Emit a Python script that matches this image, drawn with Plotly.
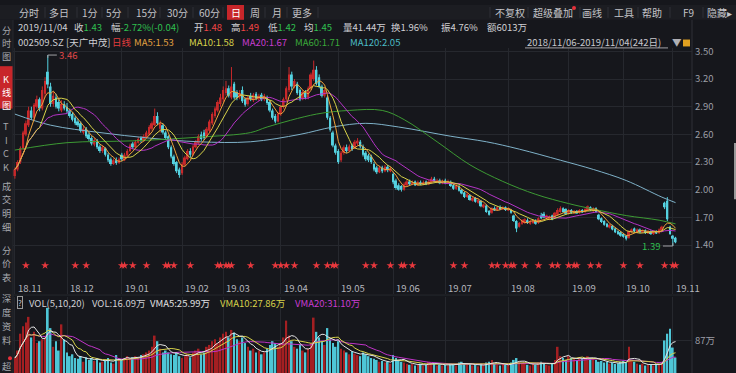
import plotly.graph_objects as go
import pandas as pd

W, H = 736, 373
FONT = "Noto Sans CJK SC, Noto Sans, sans-serif"
BG = "#16171c"
GRID = "#26282e"
RED = "#c8292b"
CYAN = "#55d2e0"
VRED = "#a41f22"
VCYAN = "#4ec6d6"
GREEN_T = "#2fbf4f"
RED_T = "#ee4444"

def fx(px):
    return px / W

def fy(py):
    return 1 - py / H

def p_at(py):  # price value located at pixel row py (3.50 at y=47, 93.5 px per 1.00)
    return 3.5 - (py - 47) / 93.5

# ---------------- data ----------------
month_ticks = [0, 19, 39, 61, 76, 97, 118, 138, 157, 180, 202, 222, 240]
month_labels = ["18.11", "18.12", "19.01", "19.02", "19.03", "19.04", "19.05",
                "19.06", "19.07", "19.08", "19.09", "19.10", "19.11"]
price_ticks = [1.40, 1.70, 2.00, 2.30, 2.60, 2.90, 3.20, 3.50]

open_ = [
    2.15, 2.22, 2.30, 2.45, 2.60, 2.70, 2.86, 2.78, 2.90, 2.98, 2.88, 3.04, 3.28, 3.12, 2.93, 3.00, 2.95, 2.86, 2.93,
    2.90, 2.86, 2.82, 2.78, 2.74, 2.72, 2.62, 2.66, 2.60, 2.56, 2.49, 2.53, 2.47, 2.42, 2.45, 2.38, 2.33, 2.28, 2.32, 2.29,
    2.38, 2.32, 2.37, 2.42, 2.50, 2.46, 2.51, 2.56, 2.53, 2.57, 2.60, 2.66, 2.70, 2.80, 2.66, 2.70, 2.62, 2.58, 2.46, 2.36, 2.30, 2.22,
    2.18, 2.27, 2.33, 2.42, 2.38, 2.46, 2.50, 2.60, 2.62, 2.58, 2.64, 2.72, 2.80, 2.86, 2.93,
    2.98, 3.05, 3.10, 3.00, 3.15, 3.06, 3.00, 3.08, 2.98, 2.93, 3.02, 2.97, 3.04, 2.98, 3.03, 2.98, 3.00, 2.95, 2.86, 2.80, 2.74,
    2.82, 2.90, 2.98, 3.08, 3.25, 3.12, 3.15, 3.08, 2.99, 3.05, 3.00, 3.10, 3.20, 3.30, 3.22, 3.12, 3.02, 3.00, 2.78, 2.62, 2.48,
    2.42, 2.32, 2.40, 2.46, 2.42, 2.48, 2.45, 2.50, 2.52, 2.47, 2.40, 2.37, 2.36, 2.28, 2.24, 2.19, 2.24, 2.20, 2.25, 2.20,
    2.17, 2.10, 2.05, 2.04, 2.00, 2.05, 2.09, 2.06, 2.09, 2.05, 2.08, 2.06, 2.09, 2.06, 2.08, 2.12, 2.08, 2.10, 2.07,
    2.10, 2.07, 2.08, 2.05, 2.01, 2.04, 2.00, 1.97, 1.92, 1.94, 1.88, 1.91, 1.86, 1.88, 1.81, 1.83, 1.77, 1.75, 1.80, 1.78, 1.81, 1.79, 1.81,
    1.78, 1.78, 1.72, 1.66, 1.60, 1.63, 1.64, 1.67, 1.63, 1.64, 1.66, 1.64, 1.72, 1.74, 1.69, 1.68, 1.72, 1.70, 1.73, 1.76, 1.80, 1.79,
    1.74, 1.78, 1.75, 1.77, 1.75, 1.78, 1.76, 1.78, 1.81, 1.77, 1.80, 1.73, 1.69, 1.66, 1.63, 1.59, 1.61, 1.58, 1.55, 1.54,
    1.52, 1.50, 1.48, 1.54, 1.58, 1.54, 1.57, 1.54, 1.56, 1.53, 1.55, 1.52, 1.55, 1.53, 1.56, 1.86, 1.88, 1.60,
    1.50, 1.48,
]
high_ = [
    2.24, 2.32, 2.47, 2.64, 2.75, 2.90, 2.90, 2.94, 3.02, 3.00, 3.12, 3.22, 3.46, 3.16, 3.06, 3.04, 2.98, 2.97, 2.96,
    2.94, 2.88, 2.84, 2.80, 2.77, 2.74, 2.69, 2.68, 2.62, 2.58, 2.56, 2.55, 2.49, 2.48, 2.46, 2.40, 2.35, 2.34, 2.35, 2.35,
    2.40, 2.40, 2.44, 2.50, 2.52, 2.54, 2.57, 2.58, 2.60, 2.64, 2.70, 2.74, 2.88, 2.84, 2.75, 2.72, 2.64, 2.59, 2.48, 2.38, 2.31, 2.24,
    2.30, 2.37, 2.44, 2.45, 2.49, 2.54, 2.60, 2.63, 2.65, 2.68, 2.76, 2.84, 2.90, 2.97, 3.04,
    3.12, 3.18, 3.13, 3.33, 3.17, 3.08, 3.08, 3.12, 3.00, 3.02, 3.05, 3.05, 3.06, 3.04, 3.05, 3.04, 3.02, 2.97, 2.88, 2.82, 2.84,
    2.92, 3.00, 3.12, 3.33, 3.28, 3.20, 3.17, 3.10, 3.08, 3.08, 3.12, 3.27, 3.40, 3.34, 3.25, 3.14, 3.10, 3.02, 2.80, 2.64, 2.50,
    2.44, 2.42, 2.48, 2.49, 2.49, 2.50, 2.54, 2.56, 2.54, 2.49, 2.42, 2.39, 2.38, 2.30, 2.26, 2.26, 2.26, 2.27, 2.27, 2.25,
    2.19, 2.12, 2.07, 2.05, 2.08, 2.11, 2.11, 2.10, 2.10, 2.10, 2.10, 2.10, 2.10, 2.11, 2.14, 2.14, 2.12, 2.12, 2.11,
    2.12, 2.11, 2.10, 2.06, 2.06, 2.05, 2.01, 1.98, 1.97, 1.95, 1.93, 1.92, 1.90, 1.89, 1.85, 1.84, 1.78, 1.81, 1.82, 1.82, 1.83, 1.82, 1.82,
    1.81, 1.79, 1.73, 1.67, 1.65, 1.68, 1.69, 1.69, 1.67, 1.68, 1.68, 1.70, 1.75, 1.76, 1.73, 1.72, 1.73, 1.76, 1.80, 1.82, 1.81, 1.80,
    1.79, 1.79, 1.78, 1.78, 1.79, 1.79, 1.80, 1.83, 1.82, 1.81, 1.81, 1.74, 1.70, 1.67, 1.64, 1.63, 1.62, 1.59, 1.56, 1.55,
    1.53, 1.51, 1.56, 1.58, 1.59, 1.58, 1.58, 1.57, 1.57, 1.56, 1.56, 1.56, 1.56, 1.58, 1.61, 1.87, 1.92, 1.61,
    1.51, 1.49,
]
low_ = [
    2.12, 2.20, 2.28, 2.43, 2.58, 2.68, 2.76, 2.75, 2.88, 2.85, 2.86, 3.00, 3.10, 2.90, 2.90, 2.88, 2.85, 2.84, 2.86,
    2.83, 2.78, 2.74, 2.70, 2.68, 2.62, 2.60, 2.56, 2.53, 2.48, 2.47, 2.44, 2.40, 2.40, 2.36, 2.30, 2.26, 2.27, 2.27, 2.28,
    2.31, 2.31, 2.36, 2.41, 2.44, 2.45, 2.50, 2.51, 2.52, 2.56, 2.59, 2.64, 2.69, 2.70, 2.62, 2.60, 2.54, 2.44, 2.34, 2.26, 2.18, 2.13,
    2.16, 2.25, 2.32, 2.35, 2.37, 2.45, 2.49, 2.53, 2.54, 2.56, 2.62, 2.70, 2.78, 2.84, 2.90,
    2.95, 3.02, 3.00, 2.98, 2.98, 2.97, 2.98, 2.94, 2.90, 2.91, 2.96, 2.95, 2.97, 2.96, 2.96, 2.96, 2.92, 2.84, 2.76, 2.72, 2.73,
    2.80, 2.88, 2.96, 3.06, 3.08, 3.10, 3.03, 2.96, 2.97, 2.98, 2.98, 3.08, 3.18, 3.13, 3.10, 3.00, 3.00, 2.76, 2.63, 2.46, 2.38,
    2.28, 2.30, 2.38, 2.40, 2.41, 2.42, 2.44, 2.48, 2.45, 2.36, 2.31, 2.30, 2.28, 2.20, 2.17, 2.18, 2.18, 2.19, 2.19, 2.19,
    2.06, 2.00, 1.99, 1.98, 1.99, 2.04, 2.05, 2.05, 2.04, 2.04, 2.05, 2.05, 2.05, 2.05, 2.07, 2.08, 2.07, 2.06, 2.06,
    2.06, 2.06, 2.03, 2.00, 2.00, 1.98, 1.95, 1.91, 1.91, 1.88, 1.87, 1.86, 1.85, 1.81, 1.80, 1.75, 1.72, 1.74, 1.77, 1.77, 1.78, 1.78, 1.77,
    1.77, 1.74, 1.65, 1.54, 1.59, 1.62, 1.63, 1.63, 1.62, 1.63, 1.62, 1.63, 1.68, 1.69, 1.68, 1.67, 1.67, 1.69, 1.72, 1.75, 1.75, 1.73,
    1.73, 1.74, 1.74, 1.74, 1.74, 1.75, 1.75, 1.77, 1.77, 1.76, 1.75, 1.67, 1.64, 1.61, 1.59, 1.58, 1.56, 1.53, 1.51, 1.49,
    1.48, 1.45, 1.47, 1.53, 1.54, 1.53, 1.53, 1.53, 1.52, 1.52, 1.51, 1.51, 1.52, 1.52, 1.55, 1.79, 1.66, 1.51,
    1.39, 1.42,
]
close_ = [
    2.22, 2.30, 2.45, 2.62, 2.72, 2.86, 2.78, 2.92, 2.98, 2.88, 3.08, 3.18, 3.14, 2.93, 3.02, 2.90, 2.88, 2.93, 2.88,
    2.85, 2.80, 2.76, 2.72, 2.70, 2.64, 2.66, 2.58, 2.55, 2.50, 2.54, 2.46, 2.42, 2.46, 2.38, 2.32, 2.28, 2.32, 2.29, 2.33,
    2.33, 2.38, 2.42, 2.48, 2.46, 2.52, 2.55, 2.53, 2.58, 2.62, 2.68, 2.72, 2.80, 2.72, 2.72, 2.62, 2.56, 2.46, 2.36, 2.28, 2.20, 2.16,
    2.28, 2.35, 2.42, 2.38, 2.47, 2.52, 2.58, 2.55, 2.56, 2.66, 2.74, 2.82, 2.88, 2.95, 3.00,
    3.08, 3.10, 3.02, 3.12, 3.00, 3.00, 3.05, 2.96, 2.92, 3.00, 2.98, 3.03, 2.99, 3.02, 2.98, 3.02, 2.94, 2.86, 2.78, 2.74, 2.82,
    2.90, 2.98, 3.10, 3.25, 3.12, 3.18, 3.05, 2.98, 3.06, 3.00, 3.10, 3.25, 3.30, 3.15, 3.12, 3.02, 3.08, 2.78, 2.65, 2.48, 2.40,
    2.30, 2.40, 2.46, 2.42, 2.47, 2.44, 2.52, 2.53, 2.47, 2.38, 2.33, 2.32, 2.30, 2.22, 2.19, 2.24, 2.20, 2.25, 2.21, 2.23,
    2.08, 2.02, 2.00, 2.00, 2.06, 2.09, 2.06, 2.08, 2.05, 2.08, 2.06, 2.08, 2.06, 2.09, 2.12, 2.09, 2.10, 2.07, 2.09,
    2.07, 2.09, 2.04, 2.01, 2.04, 1.99, 1.96, 1.92, 1.95, 1.89, 1.91, 1.87, 1.89, 1.82, 1.84, 1.76, 1.73, 1.80, 1.78, 1.81, 1.79, 1.81, 1.78,
    1.80, 1.75, 1.66, 1.58, 1.64, 1.67, 1.68, 1.64, 1.66, 1.67, 1.63, 1.69, 1.69, 1.70, 1.72, 1.71, 1.68, 1.75, 1.78, 1.80, 1.76, 1.74,
    1.78, 1.75, 1.77, 1.75, 1.78, 1.76, 1.79, 1.82, 1.78, 1.80, 1.76, 1.68, 1.65, 1.62, 1.60, 1.62, 1.57, 1.54, 1.52, 1.50,
    1.49, 1.47, 1.55, 1.57, 1.55, 1.57, 1.54, 1.56, 1.53, 1.55, 1.52, 1.55, 1.53, 1.57, 1.60, 1.81, 1.68, 1.52,
    1.47, 1.43,
]
# volume in 万 shares
volume = [
    40, 60, 105, 125, 135, 150, 95, 110, 80, 85, 90, 95, 174, 120, 70, 85, 60, 130, 90,
    55, 45, 50, 40, 38, 45, 30, 42, 35, 40, 32, 38, 28, 30, 35, 40, 28, 25, 48, 40,
    35, 40, 45, 38, 42, 45, 40, 48, 50, 55, 60, 70, 100, 85, 65, 55, 60, 55, 50, 48, 55, 45,
    40, 45, 50, 42, 55, 60, 65, 50, 55, 70, 75, 85, 90, 80, 95,
    105, 110, 95, 115, 108, 90, 85, 95, 80, 70, 60, 65, 55, 60, 50, 55, 65, 75, 85, 80, 70,
    80, 95, 140, 100, 85, 70, 65, 75, 60, 55, 65, 80, 148, 110, 95, 85, 75, 120, 90, 80, 70,
    85, 65, 60, 55, 50, 58, 52, 48, 45, 55, 50, 45, 40, 38, 35, 30, 32, 28, 30, 25,
    48, 40, 35, 30, 28, 25, 22, 24, 20, 22, 25, 20, 22, 30, 28, 25, 20, 22, 20,
    22, 20, 25, 24, 20, 28, 30, 25, 22, 24, 20, 22, 18, 25, 20, 28, 30, 35, 25, 22, 20, 24, 22,
    22, 28, 35, 40, 30, 25, 28, 22, 20, 25, 22, 28, 30, 24, 22, 20, 25, 35, 70, 45, 40, 35,
    45, 40, 38, 35, 40, 38, 42, 45, 40, 38, 35, 30, 32, 28, 30, 25, 28, 24, 26, 30,
    32, 28, 70, 35, 30, 25, 22, 25, 20, 22, 24, 20, 22, 25, 30, 87, 105, 118,
    68, 41.44,
]
star_idx = [4, 11, 22, 26, 39, 40, 43, 48, 55, 56, 58, 64, 74, 75, 77, 78, 79, 86, 95, 97, 99,
            102, 110, 114, 116, 117, 128, 131, 137, 141, 142, 145, 160, 164, 174, 176, 179, 181,
            182, 186, 191, 196, 198, 202, 204, 205, 210, 213, 222, 228, 237, 240, 241]
ma60_idx = [0, 19, 43, 67, 86, 92, 110, 122, 134, 142, 154, 166, 178, 190, 202, 211, 223, 235, 241]
ma60_val = [2.43, 2.51, 2.53, 2.57, 2.62, 2.68, 2.82, 2.86, 2.86, 2.76, 2.52, 2.27, 2.09, 1.95,
            1.85, 1.79, 1.72, 1.67, 1.63]
ma120_idx = [0, 13, 31, 49, 67, 86, 104, 116, 128, 140, 159, 172, 184, 199, 211, 223, 236, 241]
ma120_val = [2.82, 2.70, 2.62, 2.56, 2.52, 2.52, 2.60, 2.68, 2.72, 2.68, 2.58, 2.52, 2.44, 2.32,
             2.22, 2.10, 1.92, 1.86]

n = len(close_)
assert len(open_) == n == len(high_) == len(low_) == len(volume) == 242

# ---------------- traces ----------------
fig = go.Figure()
idx = list(range(n))
up = [i for i in idx if close_[i] >= open_[i]]
dn = [i for i in idx if close_[i] < open_[i]]

for grp, col in ((up, RED), (dn, CYAN)):
    xs, ys = [], []
    for i in grp:
        xs += [i, i, None]
        ys += [low_[i], high_[i], None]
    fig.add_trace(go.Scatter(x=xs, y=ys, mode="lines", line=dict(color=col, width=1),
                             hoverinfo="skip", xaxis="x", yaxis="y"))
for grp, col in ((up, RED), (dn, CYAN)):
    fig.add_trace(go.Bar(x=grp,
                         y=[max(abs(close_[i] - open_[i]), 0.008) for i in grp],
                         base=[min(close_[i], open_[i]) for i in grp],
                         width=0.72, marker=dict(color=col, line=dict(width=0)),
                         xaxis="x", yaxis="y"))

cs = pd.Series(close_)
ma_cols = [(5, "#eda23c"), (10, "#d8d34a"), (20, "#b434c6")]
fig.add_trace(go.Scatter(x=ma120_idx, y=ma120_val, mode="lines", line=dict(color="#7fb2c9", width=1, shape="spline"),
                         xaxis="x", yaxis="y"))
fig.add_trace(go.Scatter(x=ma60_idx, y=ma60_val, mode="lines", line=dict(color="#3d9a34", width=1, shape="spline"),
                         xaxis="x", yaxis="y"))
for win, col in reversed(ma_cols):
    fig.add_trace(go.Scatter(x=idx, y=cs.rolling(win, min_periods=1).mean(), mode="lines",
                             line=dict(color=col, width=1), xaxis="x", yaxis="y"))

# star markers row
fig.add_trace(go.Scatter(x=star_idx, y=[p_at(264)] * len(star_idx), mode="markers",
                         marker=dict(symbol="star", size=6, color="#e8383d", line=dict(width=0)),
                         xaxis="x", yaxis="y"))

# volume
vcol = [VRED if close_[i] >= open_[i] else VCYAN for i in idx]
fig.add_trace(go.Bar(x=idx, y=volume, width=0.62, marker=dict(color=vcol, line=dict(width=0)),
                     xaxis="x2", yaxis="y2"))
vs = pd.Series(volume)
for win, col in ((20, "#c034c8"), (10, "#d8d34a"), (5, "#e6e6e6")):
    fig.add_trace(go.Scatter(x=idx, y=vs.rolling(win, min_periods=1).mean(), mode="lines",
                             line=dict(color=col, width=1), xaxis="x2", yaxis="y2"))

# ---------------- layout ----------------
XR = [-0.7, 247]
xa = dict(domain=[fx(13), fx(692)], range=XR, tickvals=month_ticks, showticklabels=False,
          showgrid=True, gridcolor=GRID, gridwidth=1, zeroline=False, showline=False, ticks="")
layout = dict(
    width=W, height=H, margin=dict(l=0, r=0, t=0, b=0),
    paper_bgcolor=BG, plot_bgcolor=BG, showlegend=False, barmode="overlay",
    font=dict(family=FONT, size=10, color="#c8c8cc"),
    xaxis=dict(xa, anchor="y"),
    xaxis2=dict(xa, anchor="y2"),
    yaxis=dict(domain=[fy(293), fy(44)], range=[p_at(293), p_at(44)], side="right", anchor="x",
               tickvals=price_ticks, ticktext=[f"{v:.2f}" for v in price_ticks],
               tickfont=dict(size=9.5, color="#9c9ea6"), showgrid=True, gridcolor=GRID,
               zeroline=False, ticks="", ticklabelstandoff=2),
    yaxis2=dict(domain=[0, fy(296)], range=[0, 203], side="right", anchor="x2",
                tickvals=[87], ticktext=["87万"], tickfont=dict(size=9.5, color="#9c9ea6"),
                showgrid=True, gridcolor=GRID, zeroline=False, ticks="", ticklabelstandoff=2),
)
fig.update_layout(**layout)

shapes = []
anns = []

def rect(x0, y0, x1, y1, color, layer="below"):
    shapes.append(dict(type="rect", xref="paper", yref="paper", x0=fx(x0), x1=fx(x1), y0=fy(y1), y1=fy(y0),
                       fillcolor=color, line=dict(width=0), layer=layer))

def line(x0, y0, x1, y1, color, width=1):
    shapes.append(dict(type="line", xref="paper", yref="paper", x0=fx(x0), x1=fx(x1), y0=fy(y0), y1=fy(y1),
                       line=dict(color=color, width=width)))

def text(x, y, t, color="#c8c8cc", size=9.5, anchor="left"):
    anns.append(dict(xref="paper", yref="paper", x=fx(x), y=fy(y), text=t, showarrow=False,
                     xanchor=anchor, yanchor="middle", font=dict(size=size, color=color, family=FONT)))

def span(t, c):
    return f"<span style='color:{c}'>{t}</span>"

# toolbar
rect(0, 0, W, 15, "#1c1d22")
rect(0, 15, 13, H, "#1b1c21")
rect(227, 0, 244, 15, "#c8262a")
for sx in [45, 77, 102, 128, 160, 193, 223, 265, 287, 318, 490, 528, 580, 608, 638, 670, 703]:
    line(sx, 2, sx, 13, "#2e3036")
for t, cx in [("分时", 29), ("多日", 59), ("1分", 90), ("5分", 114), ("15分", 146), ("30分", 177),
              ("60分", 209), ("日", 235.5), ("周", 255), ("月", 277), ("更多", 302),
              ("不复权", 510), ("超级叠加", 553), ("画线", 592), ("工具", 624), ("帮助", 652),
              ("F9", 688), ("隐藏▸", 719)]:
    text(cx, 7.5, t, "#ffffff" if t == "日" else "#c4c4c8", 10, "center")
shapes.append(dict(type="circle", xref="paper", yref="paper", x0=fx(572), x1=fx(576), y0=fy(5), y1=fy(1),
                   fillcolor="#e8303a", line=dict(width=0)))

# info row 2
row2 = [
    (16, "2019/11/04"),
    (72, "收" + span("1.43", GREEN_T)),
    (109, "幅" + span("-2.72%(-0.04)", GREEN_T)),
    (192, "开" + span("1.48", RED_T)),
    (229, "高" + span("1.49", RED_T)),
    (266, "低" + span("1.42", GREEN_T)),
    (302, "均" + span("1.45", GREEN_T)),
    (341, "量41.44万"),
    (389, "换1.96%"),
    (439, "振4.76%"),
    (485, "额6013万"),
]
for x, t in row2:
    text(x, 22.5, t, "#d0d0d4", 9.5)

# info row 3
row3 = [
    (16, "002509.SZ", "#d0d0d4"),
    (64, "[天广中茂]", "#d0d0d4"),
    (110, "日线", "#e23c3c"),
    (132, "MA5:1.53", "#e0a040"),
    (187, "MA10:1.58", "#d6d24a"),
    (240, "MA20:1.67", "#c83cd0"),
    (293, "MA60:1.71", "#3aa83a"),
    (348, "MA120:2.05", "#4cbcc6"),
    (525, "2018/11/06-2019/11/04(242日)", "#c8c8cc"),
    (670, "▼", "#b0b0b4"),
]
for x, t, c in row3:
    text(x, 38, t, c, 9.5)
line(525, 43.5, 668, 43.5, "#a0a0a4")
rect(683, 35, 690, 42, "#e0a020", "above")

# sidebar
side = [("分", 25), ("时", 39), ("图", 52), ("K", 75), ("线", 88), ("图", 101),
        ("T", 123), ("I", 137), ("C", 150), ("K", 164),
        ("成", 183), ("交", 197), ("明", 211), ("细", 225),
        ("分", 248), ("价", 262), ("表", 276),
        ("深", 297), ("度", 311), ("资", 325), ("料", 340), ("超", 366)]
rect(0, 62, 13, 105, "#c8262a")
for ch, y in side:
    text(6.5, y, ch, "#ffffff" if 62 < y < 105 else "#a6a8ae", 9.2, "center")
shapes.append(dict(type="circle", xref="paper", yref="paper", x0=fx(8), x1=fx(12), y0=fy(360), y1=fy(356),
                   fillcolor="#e8303a", line=dict(width=0)))

# borders
line(13, 15, 13, H, "#26282e")
line(692, 15, 692, H, "#2e3036")
line(13, 294, 692, 294, "#26282e")
line(735, 140, 735, 197, "#9a9a9a", 2)

# date labels
for t, i in zip(month_labels, month_ticks):
    anns.append(dict(xref="x", yref="paper", x=i, y=fy(287), text=t, showarrow=False, xanchor="left",
                     xshift=1, yanchor="middle", font=dict(size=9.5, color="#b4b6bc", family=FONT)))

# volume header
anns.append(dict(xref="paper", yref="paper", x=fx(16.5), y=fy(302), text="?", showarrow=False,
                 xanchor="left", yanchor="middle", bordercolor="#9a9a9a", borderwidth=1, borderpad=0,
                 font=dict(size=8, color="#c8c8cc", family=FONT)))
for x, t, c in [(27, "VOL(5,10,20)", "#d0d0d4"), (90, "VOL:16.09万", "#d0d0d4"),
                (148, "VMA5:25.99万", "#e0e0e2"), (218, "VMA10:27.86万", "#d6d24a"),
                (293, "VMA20:31.10万", "#c83cd0")]:
    text(x, 302, t, c, 9.5)

# high / low markers
shapes.append(dict(type="line", xref="x", yref="y", x0=12, x1=15.3, y0=3.46, y1=3.46,
                   line=dict(color="#a0a0a4", width=1)))
shapes.append(dict(type="line", xref="x", yref="y", x0=12, x1=12, y0=3.46, y1=3.43,
                   line=dict(color="#a0a0a4", width=1)))
anns.append(dict(xref="x", yref="y", x=15.5, y=3.46, text="3.46", showarrow=False, xanchor="left",
                 yanchor="middle", font=dict(size=9.5, color="#e04848", family=FONT)))
shapes.append(dict(type="line", xref="x", yref="y", x0=236.4, x1=240, y0=1.39, y1=1.39,
                   line=dict(color="#a0a0a4", width=1)))
shapes.append(dict(type="line", xref="x", yref="y", x0=240, x1=240, y0=1.39, y1=1.42,
                   line=dict(color="#a0a0a4", width=1)))
anns.append(dict(xref="x", yref="y", x=236.2, y=1.39, text="1.39", showarrow=False, xanchor="right",
                 yanchor="middle", font=dict(size=9.5, color="#2fbf4f", family=FONT)))

fig.update_layout(shapes=shapes, annotations=anns)
fig.write_html("out.html", config={"displayModeBar": False},
               post_script="document.body.style.margin='0';document.body.style.background='#16171c';")
